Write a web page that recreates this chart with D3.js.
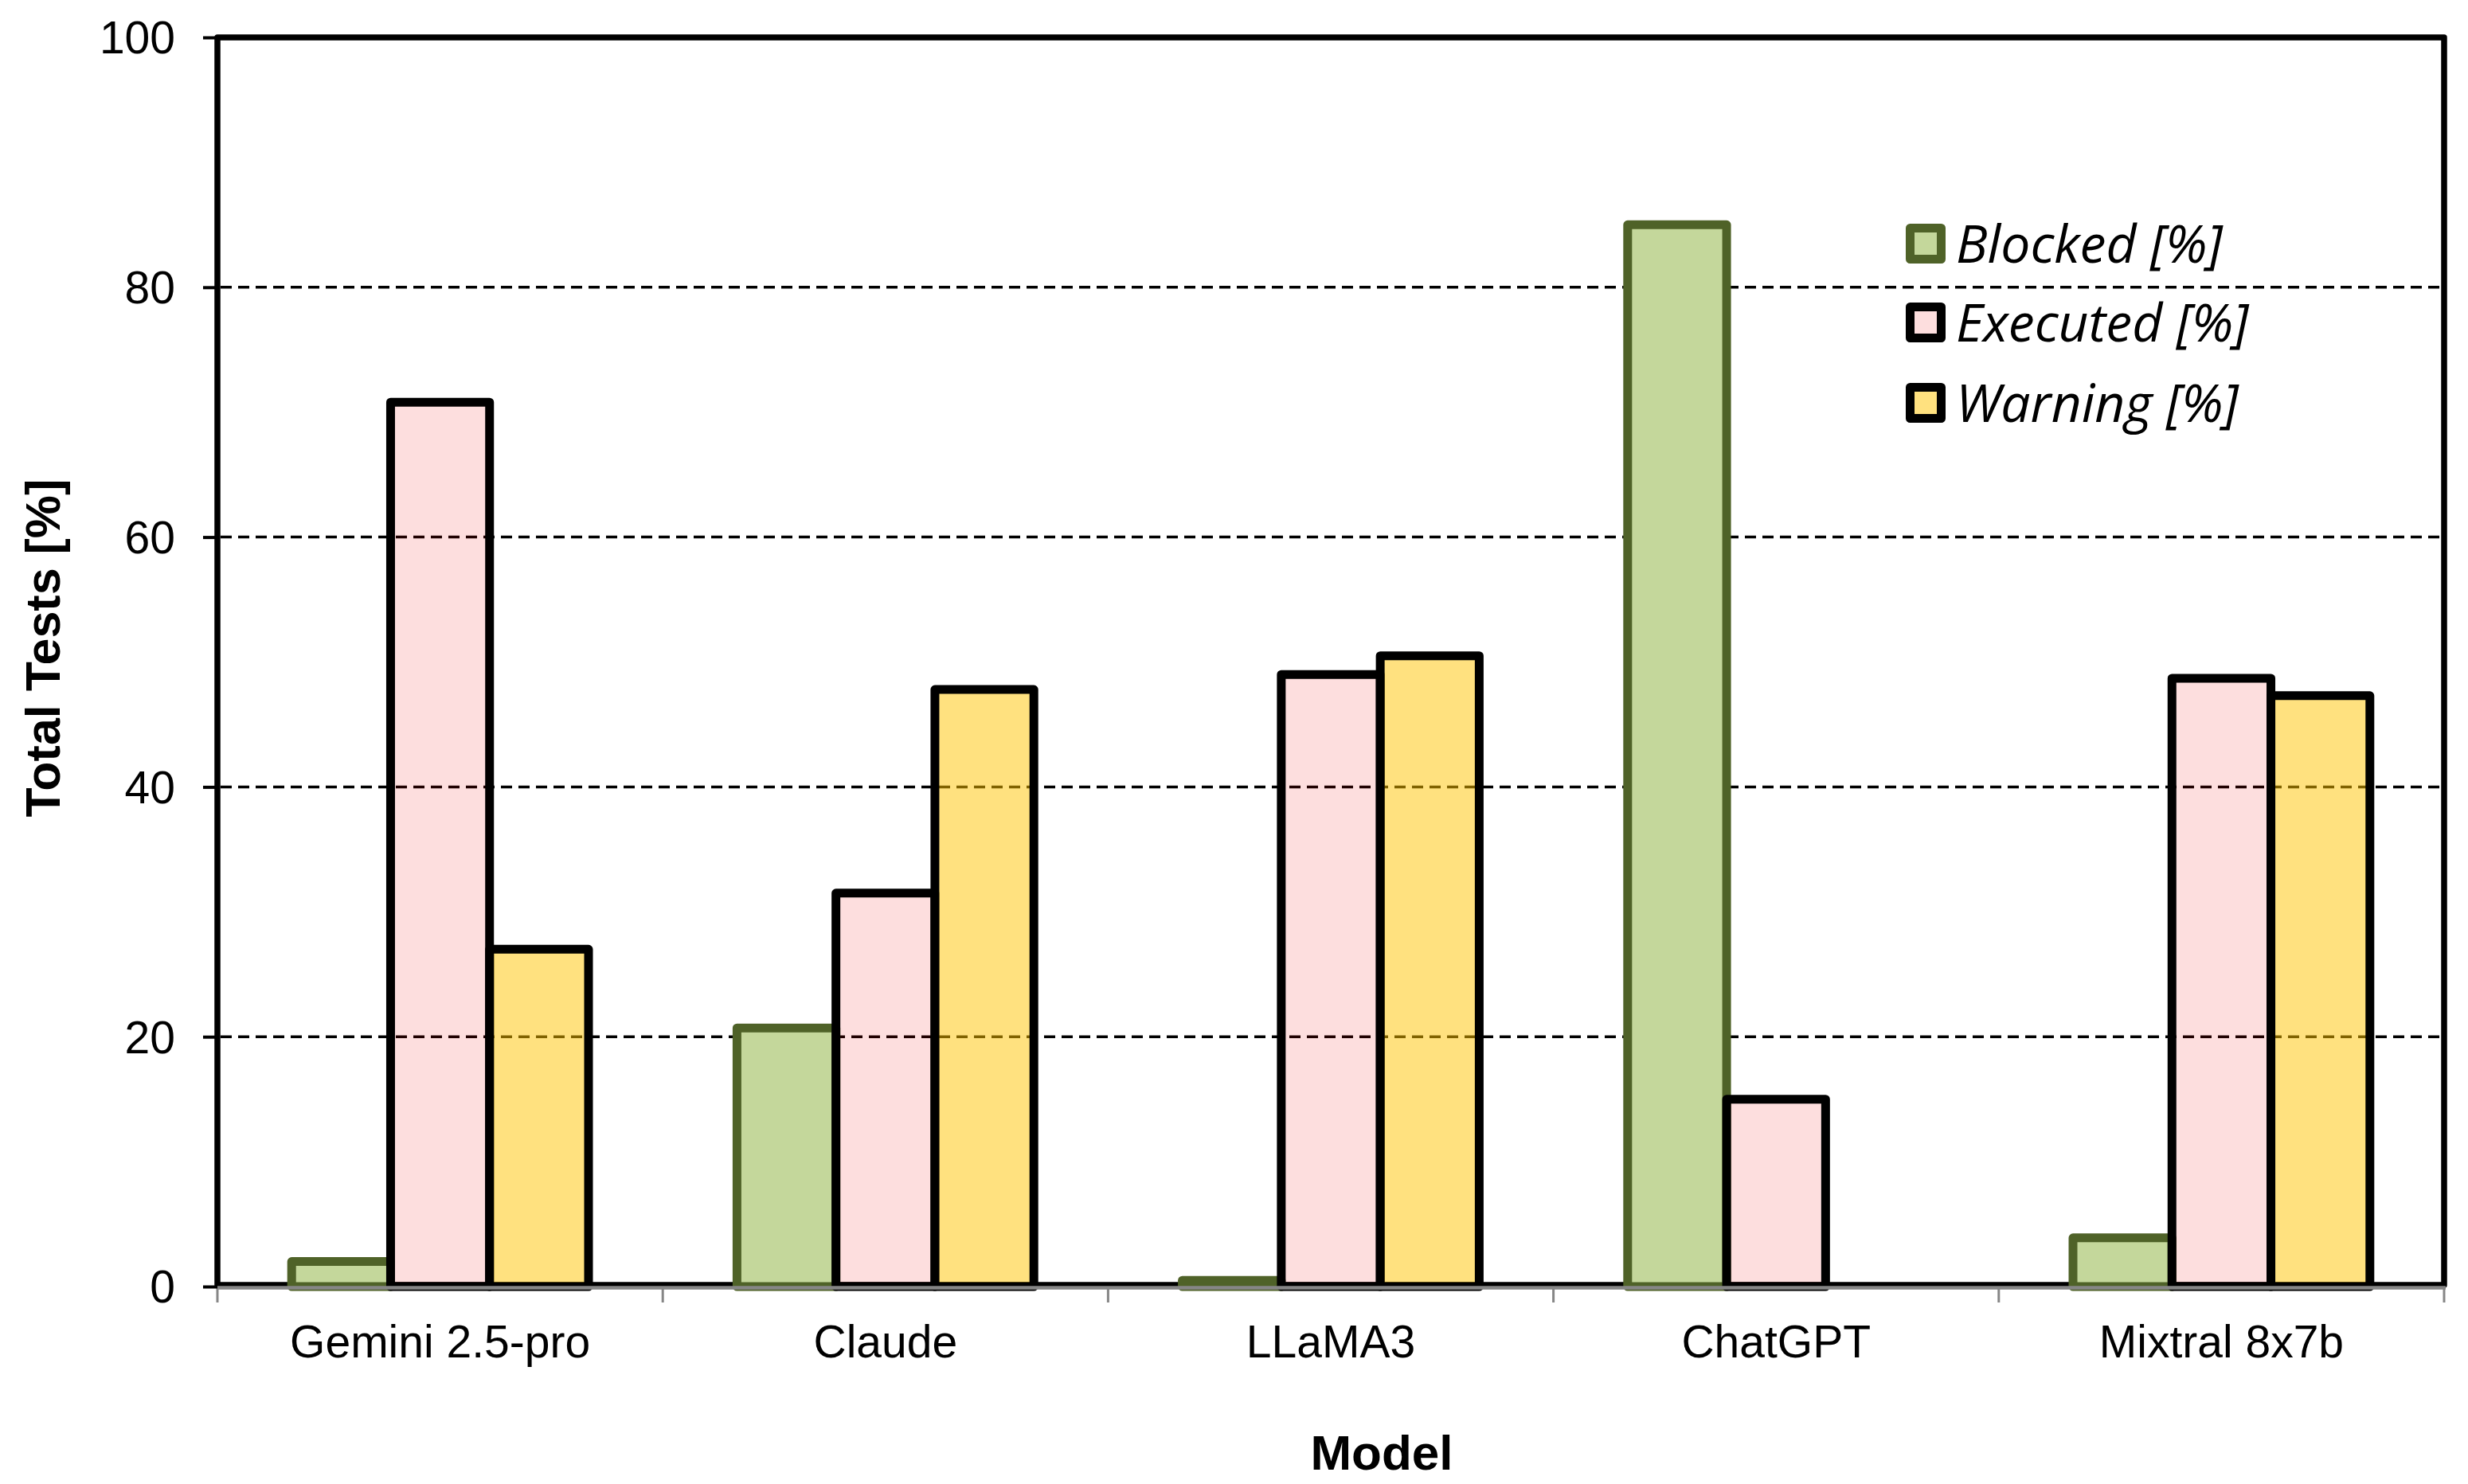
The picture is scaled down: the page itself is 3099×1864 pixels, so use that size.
<!DOCTYPE html>
<html>
<head>
<meta charset="utf-8">
<script src="https://cdn.jsdelivr.net/npm/d3@7"></script>
<style>
  html, body { margin: 0; padding: 0; background: #fff; }
  svg { display: block; }
</style>
</head>
<body>
<script>
// ---- data ----
const categories = ["Gemini 2.5-pro", "Claude", "LLaMA3", "ChatGPT", "Mixtral 8x7b"];
const seriesNames = ["Blocked [%]", "Executed [%]", "Warning [%]"];
const blocked  = [2.0, 20.7, 0.5, 85.0, 3.9];
const executed = [70.8, 31.5, 49.0, 15.0, 48.7];
const warning  = [27.0, 47.8, 50.5, 0, 47.3];
const yTicks = [0, 20, 40, 60, 80, 100];
const gridTicks = [20, 40, 60, 80];

const seriesValues = [blocked, executed, warning];
const fills = ["#C4D79B", "rgba(242,0,0,0.13)", "rgba(255,196,0,0.5)"];
const strokes = ["#4F6228", "#000000", "#000000"];

const W = 3099, H = 1864;
const L = 273, R = 3069, T = 47, B = 1616;

const svg = d3.select("body").append("svg").attr("width", W).attr("height", H);

const x0 = d3.scaleBand().domain(categories).range([L, R]).paddingInner(0).paddingOuter(0);
const x1 = d3.scaleBand().domain(seriesNames).range([0, x0.bandwidth()]).paddingInner(0).paddingOuter(0.75);
const y = d3.scaleLinear().domain([0, 100]).range([B, T]);

// plot frame
svg.append("rect")
  .attr("x", L).attr("y", y(100))
  .attr("width", R - L).attr("height", B - y(100) - 2)
  .attr("fill", "none").attr("stroke", "#000").attr("stroke-width", 7.5)
  .attr("stroke-linejoin", "round");

// gridlines
svg.append("g").selectAll("line").data(gridTicks).join("line")
  .attr("x1", L + 4).attr("x2", R - 4)
  .attr("y1", d => y(d)).attr("y2", d => y(d))
  .attr("stroke", "#000").attr("stroke-width", 3.5)
  .attr("stroke-dasharray", "14,8");

// bars
const rows = [];
categories.forEach((c, i) => {
  seriesNames.forEach((s, j) => {
    rows.push({ cat: c, ser: s, j: j, v: seriesValues[j][i] });
  });
});
svg.append("g").selectAll("rect").data(rows.filter(d => d.v > 0)).join("rect")
  .attr("x", d => x0(d.cat) + x1(d.ser))
  .attr("y", d => y(d.v))
  .attr("width", x1.bandwidth())
  .attr("height", d => y(0) - y(d.v))
  .attr("fill", d => fills[d.j])
  .attr("stroke", d => strokes[d.j])
  .attr("stroke-width", 11)
  .attr("stroke-linejoin", "round");

// x axis baseline (gray) and boundary ticks
svg.append("line")
  .attr("x1", L).attr("x2", R + 2)
  .attr("y1", B + 1.5).attr("y2", B + 1.5)
  .attr("stroke", "#868686").attr("stroke-width", 4.5);
const bounds = categories.map(c => x0(c)).concat([R]);
svg.append("g").selectAll("line").data(bounds).join("line")
  .attr("x1", d => d).attr("x2", d => d)
  .attr("y1", B).attr("y2", B + 20)
  .attr("stroke", "#868686").attr("stroke-width", 3);

// x axis labels
const xAxis = svg.append("g")
  .attr("transform", `translate(0,${B})`)
  .call(d3.axisBottom(x0).tickSize(0).tickPadding(0));
xAxis.select(".domain").remove();
xAxis.selectAll("text")
  .attr("y", 89).attr("dy", null)
  .attr("font-family", "'Liberation Sans', Arial, sans-serif")
  .attr("font-size", 57).attr("fill", "#000");

// y axis
const yAxis = svg.append("g")
  .attr("transform", `translate(${L},0)`)
  .call(d3.axisLeft(y).tickValues(yTicks).tickSize(18).tickPadding(35).tickFormat(d3.format("d")));
yAxis.select(".domain").remove();
yAxis.selectAll(".tick line").attr("stroke", "#000").attr("stroke-width", 4);
yAxis.selectAll("text")
  .attr("font-family", "'Liberation Sans', Arial, sans-serif")
  .attr("font-size", 57).attr("fill", "#000").attr("dy", "0.35em");

// axis titles
svg.append("text")
  .attr("x", 1735).attr("y", 1846)
  .attr("text-anchor", "middle")
  .attr("font-family", "'Liberation Sans', Arial, sans-serif")
  .attr("font-weight", "bold").attr("font-size", 62)
  .text("Model");

svg.append("text")
  .attr("transform", "translate(75,814) rotate(-90)")
  .attr("text-anchor", "middle")
  .attr("font-family", "'Liberation Sans', Arial, sans-serif")
  .attr("font-weight", "bold").attr("font-size", 61)
  .text("Total Tests [%]");

// legend
const legend = svg.append("g");
const legY = [306, 405, 506];
seriesNames.forEach((s, j) => {
  const g = legend.append("g").attr("transform", `translate(2418,${legY[j]})`);
  g.append("rect")
    .attr("x", -19.5).attr("y", -19.5).attr("width", 39).attr("height", 39)
    .attr("fill", fills[j]).attr("stroke", strokes[j]).attr("stroke-width", 11)
    .attr("stroke-linejoin", "round");
  g.append("text")
    .attr("x", 38).attr("y", 0).attr("dy", "0.36em")
    .attr("font-family", "'Open Sans', 'Noto Sans', sans-serif")
    .attr("font-style", "italic").attr("font-size", 66)
    .text(s);
});
</script>
</body>
</html>
